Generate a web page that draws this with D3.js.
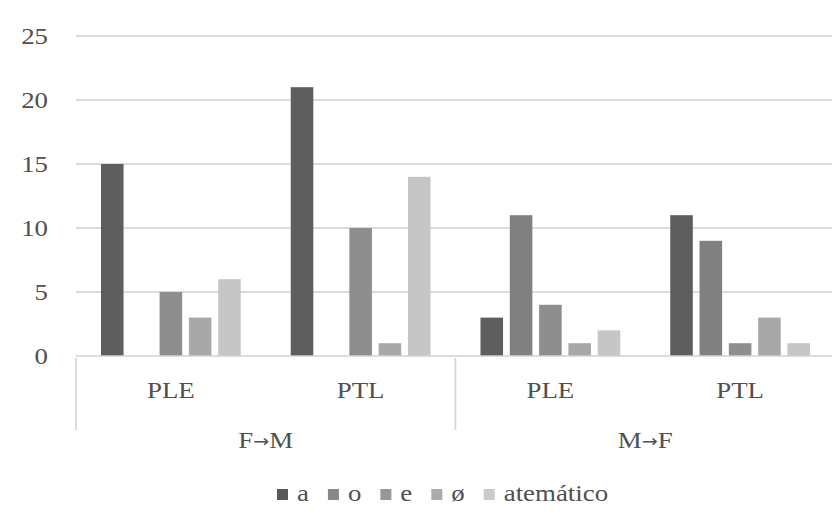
<!DOCTYPE html>
<html>
<head>
<meta charset="utf-8">
<script src="https://cdn.jsdelivr.net/npm/d3@7/dist/d3.min.js"></script>
<style>
  html, body { margin: 0; padding: 0; background: #fff; }
</style>
</head>
<body>
<svg id="chart" width="840" height="527"></svg>
<script>
// Category structure: direction groups, each with two sub-categories
const groups = ["F→M", "M→F"];
const subcats = ["PLE", "PTL"];
const series = ["a", "o", "e", "ø", "atemático"];

// Counts per series, in order: F→M PLE, F→M PTL, M→F PLE, M→F PTL
const valuesA = [15, 21, 3, 11];
const valuesO = [0, 0, 11, 9];
const valuesE = [5, 10, 4, 1];
const valuesOslash = [3, 1, 1, 3];
const valuesAtematico = [6, 14, 2, 1];

const yTicks = [0, 5, 10, 15, 20, 25];
const seriesColors = ["#5e5e5e", "#808080", "#8e8e8e", "#a8a8a8", "#c6c6c6"];
const legendColors = ["#585858", "#888888", "#989898", "#ababab", "#cbcbcb"];

const seriesValues = [valuesA, valuesO, valuesE, valuesOslash, valuesAtematico];

const fontFamily = "'Liberation Serif'";
const textColor = "#505050";
const textScaleX = 1.12;
const fontSize = 24;

// Shared label styling
function labelStyle(sel) {
  return sel.style("font-family", fontFamily)
    .style("font-size", fontSize + "px")
    .style("fill", textColor);
}

// Flat list of leaf categories (group + sub-category)
const leaves = [];
groups.forEach(g => subcats.forEach(s => leaves.push({ group: g, sub: s, key: g + "|" + s })));

const svg = d3.select("#chart");

const x0 = d3.scaleBand().domain(leaves.map(d => d.key)).range([76, 835]).padding(0);
const x1 = d3.scaleBand().domain(series).range([0, x0.bandwidth()])
  .paddingInner(0.23).paddingOuter(0.853);
const y = d3.scaleLinear().domain([0, 25]).range([356, 36]);

// Horizontal gridlines
svg.append("g").selectAll("line").data(yTicks.filter(t => t > 0)).join("line")
  .attr("x1", 76).attr("x2", 832)
  .attr("y1", d => y(d)).attr("y2", d => y(d))
  .attr("stroke", "#cfcfcf").attr("stroke-width", 1.6);

// Y tick labels
svg.append("g").selectAll("text").data(yTicks).join("text")
  .attr("transform", d => `translate(48,${y(d)}) scale(${textScaleX},1)`)
  .attr("text-anchor", "end")
  .attr("dy", "0.34em")
  .call(labelStyle)
  .text(d => d);

// Bars
const barData = [];
leaves.forEach((leaf, i) => {
  series.forEach((s, j) => {
    barData.push({ leaf: leaf.key, series: s, value: seriesValues[j][i], color: seriesColors[j] });
  });
});
svg.append("g").selectAll("rect").data(barData).join("rect")
  .attr("x", d => x0(d.leaf) + x1(d.series))
  .attr("width", x1.bandwidth())
  .attr("y", d => y(d.value))
  .attr("height", d => y(0) - y(d.value))
  .attr("fill", d => d.color);

// Category axis baseline
svg.append("line")
  .attr("x1", 76).attr("x2", 832).attr("y1", y(0)).attr("y2", y(0))
  .attr("stroke", "#d2d2d2").attr("stroke-width", 1.6);

// Group dividers for the multi-level axis (left edge and between groups)
const groupStart = g => x0(g + "|" + subcats[0]);
const groupEnd = g => x0(g + "|" + subcats[subcats.length - 1]) + x0.bandwidth();
svg.append("g").selectAll("line").data(groups).join("line")
  .attr("x1", d => groupStart(d)).attr("x2", d => groupStart(d))
  .attr("y1", y(0) + 2).attr("y2", 430)
  .attr("stroke", "#d2d2d2").attr("stroke-width", 1.6);

// Sub-category labels
svg.append("g").selectAll("text").data(leaves).join("text")
  .attr("transform", d => `translate(${x0(d.key) + x0.bandwidth() / 2},398) scale(${textScaleX},1)`)
  .attr("text-anchor", "middle")
  .call(labelStyle)
  .text(d => d.sub);

// Group labels; the arrow is set in a compact face so it sits tight between the letters
const groupText = svg.append("g").selectAll("text").data(groups).join("text")
  .attr("transform", d => `translate(${(groupStart(d) + groupEnd(d)) / 2},448) scale(${textScaleX},1)`)
  .attr("text-anchor", "middle")
  .call(labelStyle);
groupText.each(function (d) {
  const t = d3.select(this);
  const [left, right] = d.split("→");
  t.append("tspan").text(left);
  t.append("tspan").style("font-family", "'DejaVu Sans'").style("font-size", "17px").attr("dy", -1).text("→");
  t.append("tspan").attr("dy", 1).text(right);
});

// Legend
const legend = svg.append("g");
let lx = 277;
series.forEach((s, i) => {
  legend.append("rect")
    .attr("x", lx).attr("y", 489).attr("width", 11).attr("height", 11)
    .attr("fill", legendColors[i]);
  const t = legend.append("text")
    .attr("transform", `translate(${lx + 20},501) scale(${textScaleX},1)`)
    .call(labelStyle)
    .text(s);
  const w = t.node().getComputedTextLength() * textScaleX;
  lx += 20 + w + 19;
});
</script>
</body>
</html>
